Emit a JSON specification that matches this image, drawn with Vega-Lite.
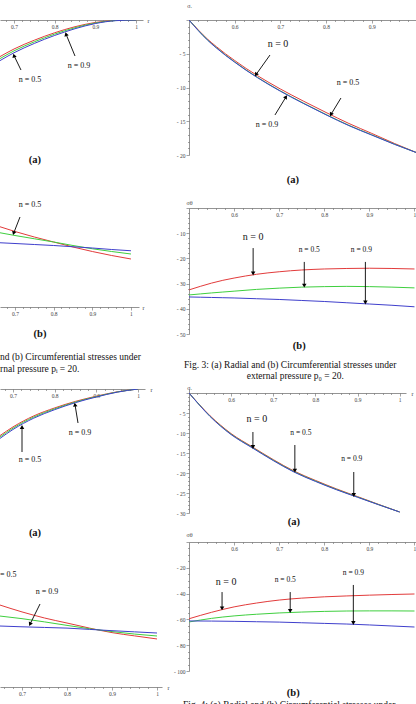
{
"$schema": "https://vega.github.io/schema/vega-lite/v6.json",
"padding": {"top": 2, "left": 0, "right": 0, "bottom": 0},
"background": "white",
"datasets": {
"curves": [
{"p":"R1","r":0.5,"n0":0,"n5":0,"n9":0},
{"p":"R1","r":0.52,"n0":-1.45,"n5":-1.5,"n9":-1.55},
{"p":"R1","r":0.54,"n0":-2.8,"n5":-2.9,"n9":-2.95},
{"p":"R1","r":0.56,"n0":-3.95,"n5":-4.1,"n9":-4.15},
{"p":"R1","r":0.58,"n0":-5.02,"n5":-5.2,"n9":-5.25},
{"p":"R1","r":0.6,"n0":-6.0,"n5":-6.2,"n9":-6.25},
{"p":"R1","r":0.625,"n0":-7.18,"n5":-7.4,"n9":-7.45},
{"p":"R1","r":0.65,"n0":-8.25,"n5":-8.5,"n9":-8.55},
{"p":"R1","r":0.7,"n0":-10.22,"n5":-10.5,"n9":-10.55},
{"p":"R1","r":0.75,"n0":-12.0,"n5":-12.3,"n9":-12.35},
{"p":"R1","r":0.8,"n0":-13.7,"n5":-14.0,"n9":-14.05},
{"p":"R1","r":0.85,"n0":-15.33,"n5":-15.6,"n9":-15.65},
{"p":"R1","r":0.9,"n0":-16.8,"n5":-17.0,"n9":-17.05},
{"p":"R1","r":0.95,"n0":-18.3,"n5":-18.4,"n9":-18.43},
{"p":"R1","r":1.0,"n0":-19.7,"n5":-19.7,"n9":-19.7},
{"p":"R2","r":0.5,"n0":-32.5,"n5":-34.5,"n9":-35.3},
{"p":"R2","r":0.525,"n0":-31.1,"n5":-34.1,"n9":-35.4},
{"p":"R2","r":0.55,"n0":-29.8,"n5":-33.7,"n9":-35.5},
{"p":"R2","r":0.575,"n0":-28.7,"n5":-33.35,"n9":-35.6},
{"p":"R2","r":0.6,"n0":-27.8,"n5":-33.0,"n9":-35.7},
{"p":"R2","r":0.65,"n0":-26.3,"n5":-32.3,"n9":-36.0},
{"p":"R2","r":0.7,"n0":-25.3,"n5":-31.8,"n9":-36.3},
{"p":"R2","r":0.75,"n0":-24.6,"n5":-31.4,"n9":-36.7},
{"p":"R2","r":0.8,"n0":-24.2,"n5":-31.2,"n9":-37.1},
{"p":"R2","r":0.85,"n0":-24.0,"n5":-31.1,"n9":-37.6},
{"p":"R2","r":0.9,"n0":-23.9,"n5":-31.2,"n9":-38.1},
{"p":"R2","r":0.95,"n0":-24.0,"n5":-31.4,"n9":-38.6},
{"p":"R2","r":1.0,"n0":-24.2,"n5":-31.7,"n9":-39.2},
{"p":"R3","r":0.5,"n0":0,"n5":0,"n9":0},
{"p":"R3","r":0.525,"n0":-2.95,"n5":-3.0,"n9":-3.05},
{"p":"R3","r":0.55,"n0":-5.7,"n5":-5.8,"n9":-5.88},
{"p":"R3","r":0.575,"n0":-8.05,"n5":-8.2,"n9":-8.3},
{"p":"R3","r":0.6,"n0":-10.15,"n5":-10.3,"n9":-10.4},
{"p":"R3","r":0.65,"n0":-13.45,"n5":-13.6,"n9":-13.7},
{"p":"R3","r":0.7,"n0":-16.65,"n5":-16.8,"n9":-16.9},
{"p":"R3","r":0.75,"n0":-19.55,"n5":-19.7,"n9":-19.8},
{"p":"R3","r":0.8,"n0":-21.85,"n5":-22.0,"n9":-22.1},
{"p":"R3","r":0.85,"n0":-23.97,"n5":-24.1,"n9":-24.18},
{"p":"R3","r":0.9,"n0":-25.9,"n5":-26.0,"n9":-26.07},
{"p":"R3","r":0.95,"n0":-27.85,"n5":-27.9,"n9":-27.94},
{"p":"R3","r":1.0,"n0":-29.75,"n5":-29.75,"n9":-29.75},
{"p":"R4","r":0.5,"n0":-59.5,"n5":-62.0,"n9":-61.2},
{"p":"R4","r":0.55,"n0":-54.5,"n5":-59.2,"n9":-61.3},
{"p":"R4","r":0.6,"n0":-50.3,"n5":-57.3,"n9":-61.5},
{"p":"R4","r":0.65,"n0":-47.3,"n5":-56.0,"n9":-61.8},
{"p":"R4","r":0.7,"n0":-45.0,"n5":-55.0,"n9":-62.1},
{"p":"R4","r":0.75,"n0":-43.5,"n5":-54.3,"n9":-62.6},
{"p":"R4","r":0.8,"n0":-42.5,"n5":-53.8,"n9":-63.1},
{"p":"R4","r":0.85,"n0":-41.8,"n5":-53.5,"n9":-63.6},
{"p":"R4","r":0.9,"n0":-41.2,"n5":-53.4,"n9":-64.3},
{"p":"R4","r":0.95,"n0":-40.7,"n5":-53.4,"n9":-65.1},
{"p":"R4","r":1.0,"n0":-40.3,"n5":-53.5,"n9":-65.9},
{"p":"L1","r":0.6656,"n0":-5.45,"n5":-5.75,"n9":-6.05},
{"p":"L1","r":0.7,"n0":-4.32,"n5":-4.6,"n9":-4.88},
{"p":"L1","r":0.75,"n0":-3.01,"n5":-3.25,"n9":-3.49},
{"p":"L1","r":0.8,"n0":-1.9,"n5":-2.1,"n9":-2.3},
{"p":"L1","r":0.85,"n0":-1.0,"n5":-1.15,"n9":-1.3},
{"p":"L1","r":0.9,"n0":-0.37,"n5":-0.45,"n9":-0.53},
{"p":"L1","r":0.95,"n0":-0.06,"n5":-0.08,"n9":-0.1},
{"p":"L1","r":1.0,"n0":0,"n5":0,"n9":0},
{"p":"L2","r":0.6612,"n0":32.1,"n5":29.7,"n9":25.7},
{"p":"L2","r":0.7,"n0":30.2,"n5":28.6,"n9":25.4},
{"p":"L2","r":0.75,"n0":28.0,"n5":27.3,"n9":25.0},
{"p":"L2","r":0.8,"n0":26.0,"n5":26.0,"n9":24.6},
{"p":"L2","r":0.85,"n0":24.0,"n5":24.6,"n9":24.1},
{"p":"L2","r":0.9,"n0":22.2,"n5":23.3,"n9":23.6},
{"p":"L2","r":0.95,"n0":20.6,"n5":22.2,"n9":23.0},
{"p":"L2","r":1.0,"n0":19.2,"n5":21.2,"n9":22.5},
{"p":"L3","r":0.6688,"n0":-11.65,"n5":-12.0,"n9":-12.35},
{"p":"L3","r":0.7,"n0":-9.48,"n5":-9.8,"n9":-10.12},
{"p":"L3","r":0.75,"n0":-6.72,"n5":-7.0,"n9":-7.28},
{"p":"L3","r":0.8,"n0":-4.73,"n5":-4.95,"n9":-5.17},
{"p":"L3","r":0.85,"n0":-3.09,"n5":-3.25,"n9":-3.41},
{"p":"L3","r":0.9,"n0":-1.8,"n5":-1.9,"n9":-2.0},
{"p":"L3","r":0.95,"n0":-0.71,"n5":-0.75,"n9":-0.79},
{"p":"L3","r":1.0,"n0":0,"n5":0,"n9":0},
{"p":"L4","r":0.6511,"n0":63.3,"n5":54.8,"n9":47.1},
{"p":"L4","r":0.7,"n0":58.0,"n5":52.8,"n9":46.5},
{"p":"L4","r":0.75,"n0":53.3,"n5":50.3,"n9":46.0},
{"p":"L4","r":0.8,"n0":49.4,"n5":47.6,"n9":45.5},
{"p":"L4","r":0.85,"n0":45.5,"n5":45.0,"n9":44.5},
{"p":"L4","r":0.9,"n0":42.0,"n5":42.8,"n9":43.5},
{"p":"L4","r":0.95,"n0":39.5,"n5":40.9,"n9":42.6},
{"p":"L4","r":1.0,"n0":37.1,"n5":39.4,"n9":41.7}
],
"notes": [
{"p":"R1","k":"n0","t":"n = 0","lx":0.6947,"ly":-3.56,"x1":0.6772,"y1":-5.19,"x2":0.6466,"y2":-8.1,"head":212},
{"p":"R1","k":"n","t":"n = 0.5","lx":0.8479,"ly":-9.33,"x1":0.8326,"y1":-11.56,"x2":0.8107,"y2":-14.0,"head":208},
{"p":"R1","k":"n","t":"n = 0.9","lx":0.6707,"ly":-15.56,"x1":0.6882,"y1":-14.07,"x2":0.7123,"y2":-11.4,"head":33},
{"p":"R1","k":"lab","t":"(a)","lx":0.7276,"ly":-23.7},
{"p":"R2","k":"n0","t":"n = 0","lx":0.6422,"ly":-11.5,"x1":0.6422,"y1":-15.9,"x2":0.6422,"y2":-26.0,"head":180},
{"p":"R2","k":"n","t":"n = 0.5","lx":0.7667,"ly":-16.7,"x1":0.7556,"y1":-21.4,"x2":0.7556,"y2":-30.8,"head":180},
{"p":"R2","k":"n","t":"n = 0.9","lx":0.8822,"ly":-16.7,"x1":0.8911,"y1":-21.4,"x2":0.8911,"y2":-37.5,"head":180},
{"p":"R2","k":"lab","t":"(b)","lx":0.7444,"ly":-54.8},
{"p":"R2","k":"cap","t":"Fig. 3: (a) Radial and (b) Circumferential stresses under","lx":0.7244,"ly":-62.3},
{"p":"R2","k":"cap","t":"external pressure p₀ = 20.","lx":0.7356,"ly":-66.7},
{"p":"R3","k":"n0","t":"n = 0","lx":0.6611,"ly":-6.5,"x1":0.6517,"y1":-9.75,"x2":0.6517,"y2":-13.5,"head":180},
{"p":"R3","k":"n","t":"n = 0.5","lx":0.7654,"ly":-10,"x1":0.7512,"y1":-13,"x2":0.7512,"y2":-19.4,"head":180},
{"p":"R3","k":"n","t":"n = 0.9","lx":0.8863,"ly":-16.5,"x1":0.891,"y1":-19.75,"x2":0.891,"y2":-25.5,"head":180},
{"p":"R3","k":"lab","t":"(a)","lx":0.7488,"ly":-32.25},
{"p":"R4","k":"n0","t":"n = 0","lx":0.5822,"ly":-31,"x1":0.5733,"y1":-38.8,"x2":0.5733,"y2":-51.5,"head":180},
{"p":"R4","k":"n","t":"n = 0.5","lx":0.7133,"ly":-29.5,"x1":0.7244,"y1":-38.8,"x2":0.7244,"y2":-53.5,"head":180},
{"p":"R4","k":"n","t":"n = 0.9","lx":0.8644,"ly":-24,"x1":0.8644,"y1":-33.3,"x2":0.8644,"y2":-62.8,"head":180},
{"p":"R4","k":"lab","t":"(b)","lx":0.7311,"ly":-117.1},
{"p":"R4","k":"cap","t":"Fig. 4: (a) Radial and (b) Circumferential stresses under","lx":0.7222,"ly":-126.4},
{"p":"L1","k":"n","t":"n = 0.5","lx":0.7393,"ly":-8.94,"x1":0.7172,"y1":-7.45,"x2":0.7,"y2":-5.3,"head":-18},
{"p":"L1","k":"n","t":"n = 0.9","lx":0.8598,"ly":-6.85,"x1":0.85,"y1":-5.36,"x2":0.8279,"y2":-2.1,"head":-18},
{"p":"L1","k":"lab","t":"(a)","lx":0.7516,"ly":-20.85},
{"p":"L2","k":"n","t":"n = 0.5","lx":0.7388,"ly":40.8,"x1":0.7129,"y1":36.0,"x2":0.6965,"y2":29.5,"head":198},
{"p":"L2","k":"lab","t":"(b)","lx":0.7647,"ly":-10.8},
{"p":"L2","k":"capl","t":"nd (b) Circumferential stresses under","lx":0.6612,"ly":-20},
{"p":"L2","k":"capl","t":"rnal pressure pᵢ = 20.","lx":0.6612,"ly":-24.8},
{"p":"L3","k":"n","t":"n = 0.5","lx":0.7408,"ly":-17.75,"x1":0.7216,"y1":-15.75,"x2":0.7216,"y2":-9.5,"head":0},
{"p":"L3","k":"n","t":"n = 0.9","lx":0.8608,"ly":-11,"x1":0.856,"y1":-8.5,"x2":0.8488,"y2":-3.9,"head":-8},
{"p":"L3","k":"lab","t":"(a)","lx":0.7528,"ly":-36.0},
{"p":"L4","k":"nl","t":"= 0.5","lx":0.6511,"ly":86.5},
{"p":"L4","k":"n","t":"n = 0.9","lx":0.7556,"ly":73.4,"x1":0.74,"y1":64.1,"x2":0.7178,"y2":48.5,"head":206}
]
},
"columns": 2,
"align": "each",
"bounds": "flush",
"spacing": {"row": 0, "column": 27},
"concat": [
{
"width": 143, "height": 188,
"layer": [
{"data": {"name": "curves"}, "transform": [{"filter": "datum.p == 'L1'"}, {"fold": ["n0","n5","n9"], "as": ["n","s"]}],
 "mark": {"type": "line", "strokeWidth": 1, "interpolate": "monotone", "clip": true},
 "encoding": {
  "x": {"field": "r", "type": "quantitative", "scale": {"domain": [0.6656, 1.0172], "nice": false, "zero": false},
   "axis": {"values": [0.68,0.7,0.72,0.74,0.76,0.78,0.8,0.82,0.84,0.86,0.88,0.9,0.92,0.94,0.96,0.98,1], "tickCount": 1000, "labelExpr": "abs(datum.value*10-round(datum.value*10))<0.001 ? (datum.value==1 ? '1' : format(datum.value,'.1f')) : ''", "tickSize": {"condition": {"test": "abs(datum.value*10-round(datum.value*10))<0.001", "value": 3}, "value": 1.5}, "offset": -188, "title": "r", "titleX": 147, "titleY": 0, "titleAngle": 0, "titleAlign": "left", "titleBaseline": "middle"}},
  "y": {"field": "s", "type": "quantitative", "scale": {"domain": [-28, 0], "nice": false, "zero": false}, "axis": null},
  "color": {"field": "n", "type": "nominal", "scale": {"domain": ["n0","n5","n9"], "range": ["#e23b3b","#3fcf3f","#3f3fcc"]}, "legend": null}
 }},
{"data": {"name": "notes"}, "transform": [{"filter": "datum.p == 'L1' && isValid(datum.x1)"}],
 "mark": {"type": "rule", "color": "#000", "strokeWidth": 0.9},
 "encoding": {"x": {"field": "x1", "type": "quantitative"}, "y": {"field": "y1", "type": "quantitative"}, "x2": {"field": "x2"}, "y2": {"field": "y2"}}},
{"data": {"name": "notes"}, "transform": [{"filter": "datum.p == 'L1' && isValid(datum.x1)"}],
 "mark": {"type": "point", "shape": "triangle-up", "filled": true, "color": "#000", "size": 20, "opacity": 1},
 "encoding": {"x": {"field": "x2", "type": "quantitative"}, "y": {"field": "y2", "type": "quantitative"}, "angle": {"field": "head", "type": "quantitative", "scale": null}}},
{"data": {"name": "notes"}, "transform": [{"filter": "datum.p == 'L1' && datum.k == 'n'"}],
 "mark": {"type": "text", "font": "Liberation Serif", "fontSize": 8, "color": "#111"},
 "encoding": {"x": {"field": "lx", "type": "quantitative"}, "y": {"field": "ly", "type": "quantitative"}, "text": {"field": "t"}}},
{"data": {"name": "notes"}, "transform": [{"filter": "datum.p == 'L1' && datum.k == 'lab'"}],
 "mark": {"type": "text", "font": "Liberation Serif", "fontSize": 10.5, "fontWeight": "bold", "color": "#111"},
 "encoding": {"x": {"field": "lx", "type": "quantitative"}, "y": {"field": "ly", "type": "quantitative"}, "text": {"field": "t"}}}
]
},
{
"width": 233, "height": 135,
"layer": [
{"data": {"name": "curves"}, "transform": [{"filter": "datum.p == 'R1'"}, {"fold": ["n0","n5","n9"], "as": ["n","s"]}],
 "mark": {"type": "line", "strokeWidth": 1, "interpolate": "monotone", "clip": true},
 "encoding": {
  "x": {"field": "r", "type": "quantitative", "scale": {"domain": [0.5, 1.01], "nice": false, "zero": false},
   "axis": {"values": [0.52,0.54,0.56,0.58,0.6,0.62,0.64,0.66,0.68,0.7,0.72,0.74,0.76,0.78,0.8,0.82,0.84,0.86,0.88,0.9,0.92,0.94,0.96,0.98,1], "tickCount": 1000, "labelExpr": "abs(datum.value*10-round(datum.value*10))<0.001 ? (datum.value==1 ? '1' : format(datum.value,'.1f')) : ''", "tickSize": {"condition": {"test": "abs(datum.value*10-round(datum.value*10))<0.001", "value": 3}, "value": 1.5}, "offset": -135, "title": null}},
  "y": {"field": "s", "type": "quantitative", "scale": {"domain": [-20, 0], "nice": false, "zero": false},
   "axis": {"values": [0,-1,-2,-3,-4,-5,-6,-7,-8,-9,-10,-11,-12,-13,-14,-15,-16,-17,-18,-19,-20], "tickCount": 1000, "labelExpr": "datum.value % 5 == 0 && datum.value != 0 ? '- ' + abs(datum.value) : ''", "tickSize": {"condition": {"test": "datum.value % 5 == 0", "value": 3}, "value": 1.5}, "title": "σᵣ", "titleAngle": 0, "titleX": 0, "titleY": -15, "titleAlign": "center", "titleBaseline": "middle"}},
  "color": {"field": "n", "type": "nominal", "scale": {"domain": ["n0","n5","n9"], "range": ["#e23b3b","#3fcf3f","#3f3fcc"]}, "legend": null}
 }},
{"data": {"name": "notes"}, "transform": [{"filter": "datum.p == 'R1' && isValid(datum.x1)"}],
 "mark": {"type": "rule", "color": "#000", "strokeWidth": 0.9},
 "encoding": {"x": {"field": "x1", "type": "quantitative"}, "y": {"field": "y1", "type": "quantitative"}, "x2": {"field": "x2"}, "y2": {"field": "y2"}}},
{"data": {"name": "notes"}, "transform": [{"filter": "datum.p == 'R1' && isValid(datum.x1)"}],
 "mark": {"type": "point", "shape": "triangle-up", "filled": true, "color": "#000", "size": 20, "opacity": 1},
 "encoding": {"x": {"field": "x2", "type": "quantitative"}, "y": {"field": "y2", "type": "quantitative"}, "angle": {"field": "head", "type": "quantitative", "scale": null}}},
{"data": {"name": "notes"}, "transform": [{"filter": "datum.p == 'R1' && datum.k == 'n0'"}],
 "mark": {"type": "text", "font": "Liberation Serif", "fontSize": 10, "color": "#111"},
 "encoding": {"x": {"field": "lx", "type": "quantitative"}, "y": {"field": "ly", "type": "quantitative"}, "text": {"field": "t"}}},
{"data": {"name": "notes"}, "transform": [{"filter": "datum.p == 'R1' && datum.k == 'n'"}],
 "mark": {"type": "text", "font": "Liberation Serif", "fontSize": 8, "color": "#111"},
 "encoding": {"x": {"field": "lx", "type": "quantitative"}, "y": {"field": "ly", "type": "quantitative"}, "text": {"field": "t"}}},
{"data": {"name": "notes"}, "transform": [{"filter": "datum.p == 'R1' && datum.k == 'lab'"}],
 "mark": {"type": "text", "font": "Liberation Serif", "fontSize": 10.5, "fontWeight": "bold", "color": "#111"},
 "encoding": {"x": {"field": "lx", "type": "quantitative"}, "y": {"field": "ly", "type": "quantitative"}, "text": {"field": "t"}}}
]
},
{
"width": 139, "height": 181,
"layer": [
{"data": {"name": "curves"}, "transform": [{"filter": "datum.p == 'L2'"}, {"fold": ["n0","n5","n9"], "as": ["n","s"]}],
 "mark": {"type": "line", "strokeWidth": 1, "interpolate": "monotone", "clip": true},
 "encoding": {
  "x": {"field": "r", "type": "quantitative", "scale": {"domain": [0.6612, 1.0207], "nice": false, "zero": false},
   "axis": {"values": [0.68,0.7,0.72,0.74,0.76,0.78,0.8,0.82,0.84,0.86,0.88,0.9,0.92,0.94,0.96,0.98,1], "tickCount": 1000, "labelExpr": "abs(datum.value*10-round(datum.value*10))<0.001 ? (datum.value==1 ? '1' : format(datum.value,'.1f')) : ''", "tickSize": {"condition": {"test": "abs(datum.value*10-round(datum.value*10))<0.001", "value": 3}, "value": 1.5}, "offset": -82, "title": "r", "titleX": 142, "titleY": 0, "titleAngle": 0, "titleAlign": "left", "titleBaseline": "middle"}},
  "y": {"field": "s", "type": "quantitative", "scale": {"domain": [-32.8, 39.6], "nice": false, "zero": false}, "axis": null},
  "color": {"field": "n", "type": "nominal", "scale": {"domain": ["n0","n5","n9"], "range": ["#e23b3b","#3fcf3f","#3f3fcc"]}, "legend": null}
 }},
{"data": {"name": "notes"}, "transform": [{"filter": "datum.p == 'L2' && isValid(datum.x1)"}],
 "mark": {"type": "rule", "color": "#000", "strokeWidth": 0.9},
 "encoding": {"x": {"field": "x1", "type": "quantitative"}, "y": {"field": "y1", "type": "quantitative"}, "x2": {"field": "x2"}, "y2": {"field": "y2"}}},
{"data": {"name": "notes"}, "transform": [{"filter": "datum.p == 'L2' && isValid(datum.x1)"}],
 "mark": {"type": "point", "shape": "triangle-up", "filled": true, "color": "#000", "size": 20, "opacity": 1},
 "encoding": {"x": {"field": "x2", "type": "quantitative"}, "y": {"field": "y2", "type": "quantitative"}, "angle": {"field": "head", "type": "quantitative", "scale": null}}},
{"data": {"name": "notes"}, "transform": [{"filter": "datum.p == 'L2' && datum.k == 'n'"}],
 "mark": {"type": "text", "font": "Liberation Serif", "fontSize": 8, "color": "#111"},
 "encoding": {"x": {"field": "lx", "type": "quantitative"}, "y": {"field": "ly", "type": "quantitative"}, "text": {"field": "t"}}},
{"data": {"name": "notes"}, "transform": [{"filter": "datum.p == 'L2' && datum.k == 'lab'"}],
 "mark": {"type": "text", "font": "Liberation Serif", "fontSize": 10.5, "fontWeight": "bold", "color": "#111"},
 "encoding": {"x": {"field": "lx", "type": "quantitative"}, "y": {"field": "ly", "type": "quantitative"}, "text": {"field": "t"}}},
{"data": {"name": "notes"}, "transform": [{"filter": "datum.p == 'L2' && datum.k == 'capl'"}],
 "mark": {"type": "text", "font": "Liberation Serif", "fontSize": 9.5, "align": "left", "color": "#111"},
 "encoding": {"x": {"field": "lx", "type": "quantitative"}, "y": {"field": "ly", "type": "quantitative"}, "text": {"field": "t"}}}
]
},
{
"width": 230, "height": 126,
"layer": [
{"data": {"name": "curves"}, "transform": [{"filter": "datum.p == 'R2'"}, {"fold": ["n0","n5","n9"], "as": ["n","s"]}],
 "mark": {"type": "line", "strokeWidth": 1, "interpolate": "monotone", "clip": true},
 "encoding": {
  "x": {"field": "r", "type": "quantitative", "scale": {"domain": [0.5, 1.01], "nice": false, "zero": false},
   "axis": {"values": [0.52,0.54,0.56,0.58,0.6,0.62,0.64,0.66,0.68,0.7,0.72,0.74,0.76,0.78,0.8,0.82,0.84,0.86,0.88,0.9,0.92,0.94,0.96,0.98,1], "tickCount": 1000, "labelExpr": "abs(datum.value*10-round(datum.value*10))<0.001 ? (datum.value==1 ? '1' : format(datum.value,'.1f')) : ''", "tickSize": {"condition": {"test": "abs(datum.value*10-round(datum.value*10))<0.001", "value": 3}, "value": 1.5}, "offset": -126, "title": null}},
  "y": {"field": "s", "type": "quantitative", "scale": {"domain": [-50, 0], "nice": false, "zero": false},
   "axis": {"values": [0,-2,-4,-6,-8,-10,-12,-14,-16,-18,-20,-22,-24,-26,-28,-30,-32,-34,-36,-38,-40,-42,-44,-46,-48,-50], "tickCount": 1000, "labelExpr": "datum.value % 10 == 0 && datum.value != 0 ? '- ' + abs(datum.value) : ''", "tickSize": {"condition": {"test": "datum.value % 10 == 0", "value": 3}, "value": 1.5}, "title": "σθ", "titleAngle": 0, "titleX": 0, "titleY": -6, "titleAlign": "center", "titleBaseline": "middle"}},
  "color": {"field": "n", "type": "nominal", "scale": {"domain": ["n0","n5","n9"], "range": ["#e23b3b","#3fcf3f","#3f3fcc"]}, "legend": null}
 }},
{"data": {"name": "notes"}, "transform": [{"filter": "datum.p == 'R2' && isValid(datum.x1)"}],
 "mark": {"type": "rule", "color": "#000", "strokeWidth": 0.9},
 "encoding": {"x": {"field": "x1", "type": "quantitative"}, "y": {"field": "y1", "type": "quantitative"}, "x2": {"field": "x2"}, "y2": {"field": "y2"}}},
{"data": {"name": "notes"}, "transform": [{"filter": "datum.p == 'R2' && isValid(datum.x1)"}],
 "mark": {"type": "point", "shape": "triangle-up", "filled": true, "color": "#000", "size": 20, "opacity": 1},
 "encoding": {"x": {"field": "x2", "type": "quantitative"}, "y": {"field": "y2", "type": "quantitative"}, "angle": {"field": "head", "type": "quantitative", "scale": null}}},
{"data": {"name": "notes"}, "transform": [{"filter": "datum.p == 'R2' && datum.k == 'n0'"}],
 "mark": {"type": "text", "font": "Liberation Serif", "fontSize": 10, "color": "#111"},
 "encoding": {"x": {"field": "lx", "type": "quantitative"}, "y": {"field": "ly", "type": "quantitative"}, "text": {"field": "t"}}},
{"data": {"name": "notes"}, "transform": [{"filter": "datum.p == 'R2' && datum.k == 'n'"}],
 "mark": {"type": "text", "font": "Liberation Serif", "fontSize": 7.5, "color": "#111"},
 "encoding": {"x": {"field": "lx", "type": "quantitative"}, "y": {"field": "ly", "type": "quantitative"}, "text": {"field": "t"}}},
{"data": {"name": "notes"}, "transform": [{"filter": "datum.p == 'R2' && datum.k == 'lab'"}],
 "mark": {"type": "text", "font": "Liberation Serif", "fontSize": 10.5, "fontWeight": "bold", "color": "#111"},
 "encoding": {"x": {"field": "lx", "type": "quantitative"}, "y": {"field": "ly", "type": "quantitative"}, "text": {"field": "t"}}},
{"data": {"name": "notes"}, "transform": [{"filter": "datum.p == 'R2' && datum.k == 'cap'"}],
 "mark": {"type": "text", "font": "Liberation Serif", "fontSize": 9.5, "color": "#111"},
 "encoding": {"x": {"field": "lx", "type": "quantitative"}, "y": {"field": "ly", "type": "quantitative"}, "text": {"field": "t"}}}
]
},
{
"width": 145, "height": 153,
"layer": [
{"data": {"name": "curves"}, "transform": [{"filter": "datum.p == 'L3'"}, {"fold": ["n0","n5","n9"], "as": ["n","s"]}],
 "mark": {"type": "line", "strokeWidth": 1, "interpolate": "monotone", "clip": true},
 "encoding": {
  "x": {"field": "r", "type": "quantitative", "scale": {"domain": [0.6688, 1.0168], "nice": false, "zero": false},
   "axis": {"values": [0.68,0.7,0.72,0.74,0.76,0.78,0.8,0.82,0.84,0.86,0.88,0.9,0.92,0.94,0.96,0.98,1], "tickCount": 1000, "labelExpr": "abs(datum.value*10-round(datum.value*10))<0.001 ? (datum.value==1 ? '1' : format(datum.value,'.1f')) : ''", "tickSize": {"condition": {"test": "abs(datum.value*10-round(datum.value*10))<0.001", "value": 3}, "value": 1.5}, "offset": -153, "title": "r", "titleX": 150, "titleY": 0, "titleAngle": 0, "titleAlign": "left", "titleBaseline": "middle"}},
  "y": {"field": "s", "type": "quantitative", "scale": {"domain": [-38.25, 0], "nice": false, "zero": false}, "axis": null},
  "color": {"field": "n", "type": "nominal", "scale": {"domain": ["n0","n5","n9"], "range": ["#e23b3b","#3fcf3f","#3f3fcc"]}, "legend": null}
 }},
{"data": {"name": "notes"}, "transform": [{"filter": "datum.p == 'L3' && isValid(datum.x1)"}],
 "mark": {"type": "rule", "color": "#000", "strokeWidth": 0.9},
 "encoding": {"x": {"field": "x1", "type": "quantitative"}, "y": {"field": "y1", "type": "quantitative"}, "x2": {"field": "x2"}, "y2": {"field": "y2"}}},
{"data": {"name": "notes"}, "transform": [{"filter": "datum.p == 'L3' && isValid(datum.x1)"}],
 "mark": {"type": "point", "shape": "triangle-up", "filled": true, "color": "#000", "size": 20, "opacity": 1},
 "encoding": {"x": {"field": "x2", "type": "quantitative"}, "y": {"field": "y2", "type": "quantitative"}, "angle": {"field": "head", "type": "quantitative", "scale": null}}},
{"data": {"name": "notes"}, "transform": [{"filter": "datum.p == 'L3' && datum.k == 'n'"}],
 "mark": {"type": "text", "font": "Liberation Serif", "fontSize": 8, "color": "#111"},
 "encoding": {"x": {"field": "lx", "type": "quantitative"}, "y": {"field": "ly", "type": "quantitative"}, "text": {"field": "t"}}},
{"data": {"name": "notes"}, "transform": [{"filter": "datum.p == 'L3' && datum.k == 'lab'"}],
 "mark": {"type": "text", "font": "Liberation Serif", "fontSize": 10.5, "fontWeight": "bold", "color": "#111"},
 "encoding": {"x": {"field": "lx", "type": "quantitative"}, "y": {"field": "ly", "type": "quantitative"}, "text": {"field": "t"}}}
]
},
{
"width": 217, "height": 124,
"layer": [
{"data": {"name": "curves"}, "transform": [{"filter": "datum.p == 'R3'"}, {"fold": ["n0","n5","n9"], "as": ["n","s"]}],
 "mark": {"type": "line", "strokeWidth": 1, "interpolate": "monotone", "clip": true},
 "encoding": {
  "x": {"field": "r", "type": "quantitative", "scale": {"domain": [0.5, 1.015], "nice": false, "zero": false},
   "axis": {"values": [0.52,0.54,0.56,0.58,0.6,0.62,0.64,0.66,0.68,0.7,0.72,0.74,0.76,0.78,0.8,0.82,0.84,0.86,0.88,0.9,0.92,0.94,0.96,0.98,1], "tickCount": 1000, "labelExpr": "abs(datum.value*10-round(datum.value*10))<0.001 ? (datum.value==1 ? '1' : format(datum.value,'.1f')) : ''", "tickSize": {"condition": {"test": "abs(datum.value*10-round(datum.value*10))<0.001", "value": 3}, "value": 1.5}, "offset": -120, "title": "r", "titleX": 222, "titleY": 0, "titleAngle": 0, "titleAlign": "left", "titleBaseline": "middle"}},
  "y": {"field": "s", "type": "quantitative", "scale": {"domain": [-30, 1], "nice": false, "zero": false},
   "axis": {"values": [0,-1,-2,-3,-4,-5,-6,-7,-8,-9,-10,-11,-12,-13,-14,-15,-16,-17,-18,-19,-20,-21,-22,-23,-24,-25,-26,-27,-28,-29,-30], "tickCount": 1000, "labelExpr": "datum.value % 5 == 0 && datum.value != 0 ? '- ' + abs(datum.value) : ''", "tickSize": {"condition": {"test": "datum.value % 5 == 0", "value": 3}, "value": 1.5}, "title": "σᵣ", "titleAngle": 0, "titleX": 0, "titleY": -2, "titleAlign": "center", "titleBaseline": "middle"}},
  "color": {"field": "n", "type": "nominal", "scale": {"domain": ["n0","n5","n9"], "range": ["#e23b3b","#3fcf3f","#3f3fcc"]}, "legend": null}
 }},
{"data": {"name": "notes"}, "transform": [{"filter": "datum.p == 'R3' && isValid(datum.x1)"}],
 "mark": {"type": "rule", "color": "#000", "strokeWidth": 0.9},
 "encoding": {"x": {"field": "x1", "type": "quantitative"}, "y": {"field": "y1", "type": "quantitative"}, "x2": {"field": "x2"}, "y2": {"field": "y2"}}},
{"data": {"name": "notes"}, "transform": [{"filter": "datum.p == 'R3' && isValid(datum.x1)"}],
 "mark": {"type": "point", "shape": "triangle-up", "filled": true, "color": "#000", "size": 20, "opacity": 1},
 "encoding": {"x": {"field": "x2", "type": "quantitative"}, "y": {"field": "y2", "type": "quantitative"}, "angle": {"field": "head", "type": "quantitative", "scale": null}}},
{"data": {"name": "notes"}, "transform": [{"filter": "datum.p == 'R3' && datum.k == 'n0'"}],
 "mark": {"type": "text", "font": "Liberation Serif", "fontSize": 10, "color": "#111"},
 "encoding": {"x": {"field": "lx", "type": "quantitative"}, "y": {"field": "ly", "type": "quantitative"}, "text": {"field": "t"}}},
{"data": {"name": "notes"}, "transform": [{"filter": "datum.p == 'R3' && datum.k == 'n'"}],
 "mark": {"type": "text", "font": "Liberation Serif", "fontSize": 7.5, "color": "#111"},
 "encoding": {"x": {"field": "lx", "type": "quantitative"}, "y": {"field": "ly", "type": "quantitative"}, "text": {"field": "t"}}},
{"data": {"name": "notes"}, "transform": [{"filter": "datum.p == 'R3' && datum.k == 'lab'"}],
 "mark": {"type": "text", "font": "Liberation Serif", "fontSize": 10.5, "fontWeight": "bold", "color": "#111"},
 "encoding": {"x": {"field": "lx", "type": "quantitative"}, "y": {"field": "ly", "type": "quantitative"}, "text": {"field": "t"}}}
]
},
{
"width": 162, "height": 145,
"layer": [
{"data": {"name": "curves"}, "transform": [{"filter": "datum.p == 'L4'"}, {"fold": ["n0","n5","n9"], "as": ["n","s"]}],
 "mark": {"type": "line", "strokeWidth": 1, "interpolate": "monotone", "clip": true},
 "encoding": {
  "x": {"field": "r", "type": "quantitative", "scale": {"domain": [0.6511, 1.0111], "nice": false, "zero": false},
   "axis": {"values": [0.66,0.68,0.7,0.72,0.74,0.76,0.78,0.8,0.82,0.84,0.86,0.88,0.9,0.92,0.94,0.96,0.98,1], "tickCount": 1000, "labelExpr": "abs(datum.value*10-round(datum.value*10))<0.001 ? (datum.value==1 ? '1' : format(datum.value,'.1f')) : ''", "tickSize": {"condition": {"test": "abs(datum.value*10-round(datum.value*10))<0.001", "value": 3}, "value": 1.5}, "title": "r", "titleX": 167, "titleY": 0, "titleAngle": 0, "titleAlign": "left", "titleBaseline": "middle"}},
  "y": {"field": "s", "type": "quantitative", "scale": {"domain": [0, 112], "nice": false, "zero": false}, "axis": null},
  "color": {"field": "n", "type": "nominal", "scale": {"domain": ["n0","n5","n9"], "range": ["#e23b3b","#3fcf3f","#3f3fcc"]}, "legend": null}
 }},
{"data": {"name": "notes"}, "transform": [{"filter": "datum.p == 'L4' && isValid(datum.x1)"}],
 "mark": {"type": "rule", "color": "#000", "strokeWidth": 0.9},
 "encoding": {"x": {"field": "x1", "type": "quantitative"}, "y": {"field": "y1", "type": "quantitative"}, "x2": {"field": "x2"}, "y2": {"field": "y2"}}},
{"data": {"name": "notes"}, "transform": [{"filter": "datum.p == 'L4' && isValid(datum.x1)"}],
 "mark": {"type": "point", "shape": "triangle-up", "filled": true, "color": "#000", "size": 20, "opacity": 1},
 "encoding": {"x": {"field": "x2", "type": "quantitative"}, "y": {"field": "y2", "type": "quantitative"}, "angle": {"field": "head", "type": "quantitative", "scale": null}}},
{"data": {"name": "notes"}, "transform": [{"filter": "datum.p == 'L4' && datum.k == 'n'"}],
 "mark": {"type": "text", "font": "Liberation Serif", "fontSize": 8, "color": "#111"},
 "encoding": {"x": {"field": "lx", "type": "quantitative"}, "y": {"field": "ly", "type": "quantitative"}, "text": {"field": "t"}}},
{"data": {"name": "notes"}, "transform": [{"filter": "datum.p == 'L4' && datum.k == 'nl'"}],
 "mark": {"type": "text", "font": "Liberation Serif", "fontSize": 8, "align": "left", "color": "#111"},
 "encoding": {"x": {"field": "lx", "type": "quantitative"}, "y": {"field": "ly", "type": "quantitative"}, "text": {"field": "t"}}}
]
},
{
"width": 230, "height": 129,
"layer": [
{"data": {"name": "curves"}, "transform": [{"filter": "datum.p == 'R4'"}, {"fold": ["n0","n5","n9"], "as": ["n","s"]}],
 "mark": {"type": "line", "strokeWidth": 1, "interpolate": "monotone", "clip": true},
 "encoding": {
  "x": {"field": "r", "type": "quantitative", "scale": {"domain": [0.5, 1.01], "nice": false, "zero": false},
   "axis": {"values": [0.52,0.54,0.56,0.58,0.6,0.62,0.64,0.66,0.68,0.7,0.72,0.74,0.76,0.78,0.8,0.82,0.84,0.86,0.88,0.9,0.92,0.94,0.96,0.98,1], "tickCount": 1000, "labelExpr": "abs(datum.value*10-round(datum.value*10))<0.001 ? (datum.value==1 ? '1' : format(datum.value,'.1f')) : ''", "tickSize": {"condition": {"test": "abs(datum.value*10-round(datum.value*10))<0.001", "value": 3}, "value": 1.5}, "offset": -129, "title": null}},
  "y": {"field": "s", "type": "quantitative", "scale": {"domain": [-100, 0], "nice": false, "zero": false},
   "axis": {"values": [0,-5,-10,-15,-20,-25,-30,-35,-40,-45,-50,-55,-60,-65,-70,-75,-80,-85,-90,-95,-100], "tickCount": 1000, "labelExpr": "datum.value % 20 == 0 && datum.value != 0 ? '- ' + abs(datum.value) : ''", "tickSize": {"condition": {"test": "datum.value % 20 == 0", "value": 3}, "value": 1.5}, "title": "σθ", "titleAngle": 0, "titleX": 0, "titleY": -8, "titleAlign": "center", "titleBaseline": "middle"}},
  "color": {"field": "n", "type": "nominal", "scale": {"domain": ["n0","n5","n9"], "range": ["#e23b3b","#3fcf3f","#3f3fcc"]}, "legend": null}
 }},
{"data": {"name": "notes"}, "transform": [{"filter": "datum.p == 'R4' && isValid(datum.x1)"}],
 "mark": {"type": "rule", "color": "#000", "strokeWidth": 0.9},
 "encoding": {"x": {"field": "x1", "type": "quantitative"}, "y": {"field": "y1", "type": "quantitative"}, "x2": {"field": "x2"}, "y2": {"field": "y2"}}},
{"data": {"name": "notes"}, "transform": [{"filter": "datum.p == 'R4' && isValid(datum.x1)"}],
 "mark": {"type": "point", "shape": "triangle-up", "filled": true, "color": "#000", "size": 20, "opacity": 1},
 "encoding": {"x": {"field": "x2", "type": "quantitative"}, "y": {"field": "y2", "type": "quantitative"}, "angle": {"field": "head", "type": "quantitative", "scale": null}}},
{"data": {"name": "notes"}, "transform": [{"filter": "datum.p == 'R4' && datum.k == 'n0'"}],
 "mark": {"type": "text", "font": "Liberation Serif", "fontSize": 10, "color": "#111"},
 "encoding": {"x": {"field": "lx", "type": "quantitative"}, "y": {"field": "ly", "type": "quantitative"}, "text": {"field": "t"}}},
{"data": {"name": "notes"}, "transform": [{"filter": "datum.p == 'R4' && datum.k == 'n'"}],
 "mark": {"type": "text", "font": "Liberation Serif", "fontSize": 7.5, "color": "#111"},
 "encoding": {"x": {"field": "lx", "type": "quantitative"}, "y": {"field": "ly", "type": "quantitative"}, "text": {"field": "t"}}},
{"data": {"name": "notes"}, "transform": [{"filter": "datum.p == 'R4' && datum.k == 'lab'"}],
 "mark": {"type": "text", "font": "Liberation Serif", "fontSize": 10.5, "fontWeight": "bold", "color": "#111"},
 "encoding": {"x": {"field": "lx", "type": "quantitative"}, "y": {"field": "ly", "type": "quantitative"}, "text": {"field": "t"}}},
{"data": {"name": "notes"}, "transform": [{"filter": "datum.p == 'R4' && datum.k == 'cap'"}],
 "mark": {"type": "text", "font": "Liberation Serif", "fontSize": 9.5, "color": "#111"},
 "encoding": {"x": {"field": "lx", "type": "quantitative"}, "y": {"field": "ly", "type": "quantitative"}, "text": {"field": "t"}}}
]
}
],
"config": {
 "view": {"stroke": null},
 "axis": {"domainColor": "#666", "domainWidth": 0.7, "tickColor": "#666", "tickWidth": 0.6, "labelFont": "Liberation Serif", "labelFontSize": 5.5, "labelColor": "#444", "labelPadding": 1, "labelOverlap": false, "labelFlush": false, "labelBound": false, "titleFont": "Liberation Serif", "titleFontSize": 6, "titleFontWeight": "normal", "titleColor": "#444", "grid": false, "titlePadding": 0}
}
}
